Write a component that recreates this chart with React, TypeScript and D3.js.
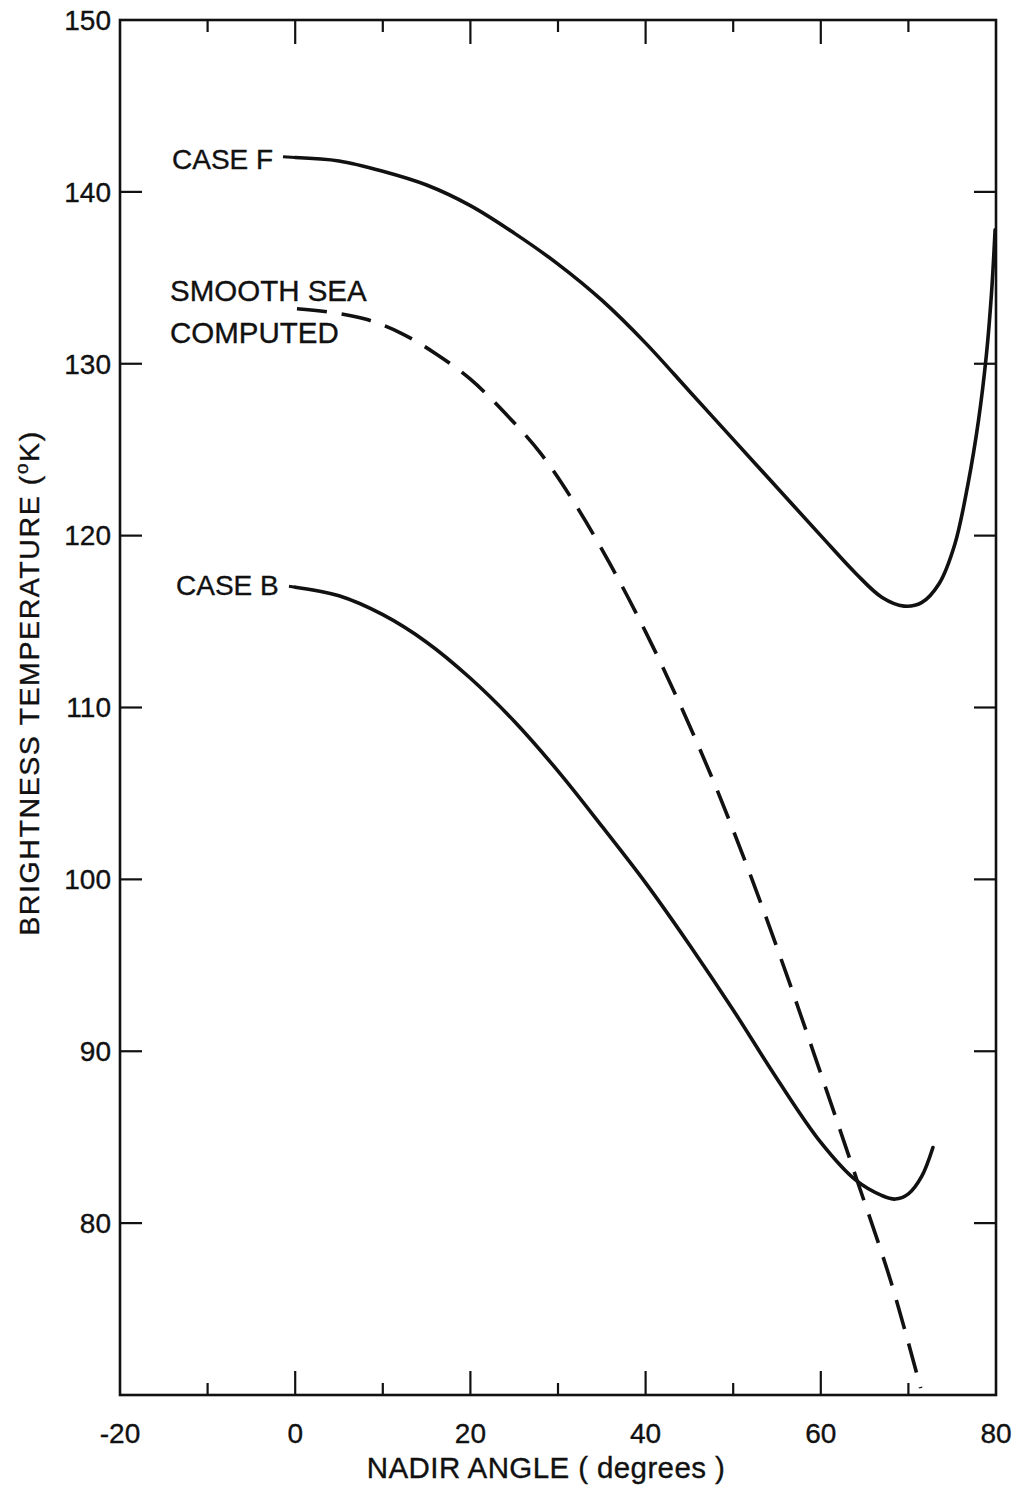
import React from 'react';
import * as d3 from 'd3';

// Nadir angle (degrees) vs brightness temperature (°K)
const caseFAngle = [0, 5, 10, 15, 20, 25, 30, 35, 40, 45, 50, 55, 60, 64, 67, 69.5, 71.5, 73.5, 75.3, 76.8, 78, 78.9, 79.5, 79.9];
const caseFTemp = [142.0, 141.8, 141.2, 140.4, 139.2, 137.6, 135.8, 133.7, 131.2, 128.4, 125.6, 122.8, 120.0, 117.8, 116.4, 115.9, 116.1, 117.2, 119.5, 123.0, 126.7, 130.5, 134.2, 137.8];

const smoothAngle = [0.2, 4, 8, 12, 16, 20, 24, 28, 32, 36, 40, 44, 48, 52, 56, 60, 64, 68, 71.4];
const smoothTemp = [133.2, 133.0, 132.6, 131.8, 130.6, 129.1, 127.1, 124.8, 121.8, 118.3, 114.4, 110.1, 105.4, 100.2, 94.6, 88.7, 82.7, 76.6, 70.4];

const caseBAngle = [0, 5, 10, 15, 20, 25, 30, 35, 40, 45, 50, 55, 60, 64, 67, 68.5, 70, 71.5, 72.8];
const caseBTemp = [117.0, 116.5, 115.4, 113.8, 111.7, 109.2, 106.3, 103.1, 99.8, 96.2, 92.4, 88.4, 84.7, 82.5, 81.6, 81.4, 81.7, 82.7, 84.4];

const xTickValues = [-20, -10, 0, 10, 20, 30, 40, 50, 60, 70, 80];
const xTickLabels = [-20, 0, 20, 40, 60, 80];
const yTickValues = [80, 90, 100, 110, 120, 130, 140];
const yTickLabels = [80, 90, 100, 110, 120, 130, 140, 150];

const FONT = "'Liberation Sans', Arial, sans-serif";

export default function App() {
  const W = 1013, H = 1487;
  const left = 120, right = 996, top = 20, bottom = 1395;
  const x = d3.scaleLinear().domain([-20, 80]).range([left, right]);
  const y = d3.scaleLinear().domain([70, 150]).range([bottom, top]);

  const line = d3.line<[number, number]>()
    .x(d => x(d[0]))
    .y(d => y(d[1]))
    .curve(d3.curveCatmullRom.alpha(0.5));

  const zip = (a: number[], b: number[]) => a.map((v, i) => [v, b[i]] as [number, number]);

  const major = (v: number) => v % 20 === 0;
  const txt = { fontFamily: FONT, fill: '#111', stroke: '#111', strokeWidth: 0.35 };

  return (
    <svg width={W} height={H} style={{ position: 'absolute', left: 0, top: 0, background: '#fff' }}>
      <rect x={0} y={0} width={W} height={H} fill="#fff" />
      {/* frame */}
      <rect x={left} y={top} width={right - left} height={bottom - top} fill="none" stroke="#111" strokeWidth={2.6} />

      {/* bottom and top ticks */}
      {xTickValues.filter(v => v > -20 && v < 80).map(v => (
        <g key={'xt' + v}>
          <line x1={x(v)} x2={x(v)} y1={bottom} y2={bottom - (major(v) ? 24 : 12)} stroke="#111" strokeWidth={2.2} />
          <line x1={x(v)} x2={x(v)} y1={top} y2={top + (major(v) ? 24 : 12)} stroke="#111" strokeWidth={2.2} />
        </g>
      ))}

      {/* left and right ticks */}
      {yTickValues.map(v => (
        <g key={'yt' + v}>
          <line x1={left} x2={left + 22} y1={y(v)} y2={y(v)} stroke="#111" strokeWidth={2.2} />
          <line x1={right} x2={right - 22} y1={y(v)} y2={y(v)} stroke="#111" strokeWidth={2.2} />
        </g>
      ))}

      {/* x tick labels */}
      {xTickLabels.map(v => (
        <text key={'xl' + v} x={x(v)} y={1443} textAnchor="middle" fontSize={28} {...txt}>
          {v}
        </text>
      ))}

      {/* y tick labels */}
      {yTickLabels.map(v => (
        <text key={'yl' + v} x={left - 9} y={y(v)} dy="0.35em" textAnchor="end" fontSize={28} {...txt}>
          {v}
        </text>
      ))}

      {/* axis titles */}
      <text x={546} y={1478} textAnchor="middle" fontSize={29.5} letterSpacing={0.4} {...txt}>
        NADIR ANGLE ( degrees )
      </text>
      <text transform="translate(39,683) rotate(-90)" textAnchor="middle" fontSize={28.5} letterSpacing={1.6} {...txt}>
        BRIGHTNESS TEMPERATURE  (<tspan fontSize={19} dy={-11}>o</tspan><tspan dy={11}>K)</tspan>
      </text>

      {/* curves */}
      <path d={line(zip(caseFAngle, caseFTemp)) || ''} fill="none" stroke="#111" strokeWidth={3.6} strokeLinecap="round" />
      <path d={line(zip(caseBAngle, caseBTemp)) || ''} fill="none" stroke="#111" strokeWidth={3.6} strokeLinecap="round" />
      <path d={line(zip(smoothAngle, smoothTemp)) || ''} fill="none" stroke="#111" strokeWidth={3.6} strokeDasharray="30 15" />

      {/* curve labels */}
      <text x={172} y={169} fontSize={28} {...txt}>CASE F</text>
      <line x1={283} x2={x(0)} y1={y(142.05)} y2={y(142.0)} stroke="#111" strokeWidth={3} />
      <text x={170} y={301} fontSize={29.5} {...txt}>SMOOTH SEA</text>
      <text x={170} y={343} fontSize={29.5} {...txt}>COMPUTED</text>
      <text x={176} y={595} fontSize={28} {...txt}>CASE B</text>
      <line x1={289} x2={x(0)} y1={y(117.05)} y2={y(117.0)} stroke="#111" strokeWidth={3} />
    </svg>
  );
}
